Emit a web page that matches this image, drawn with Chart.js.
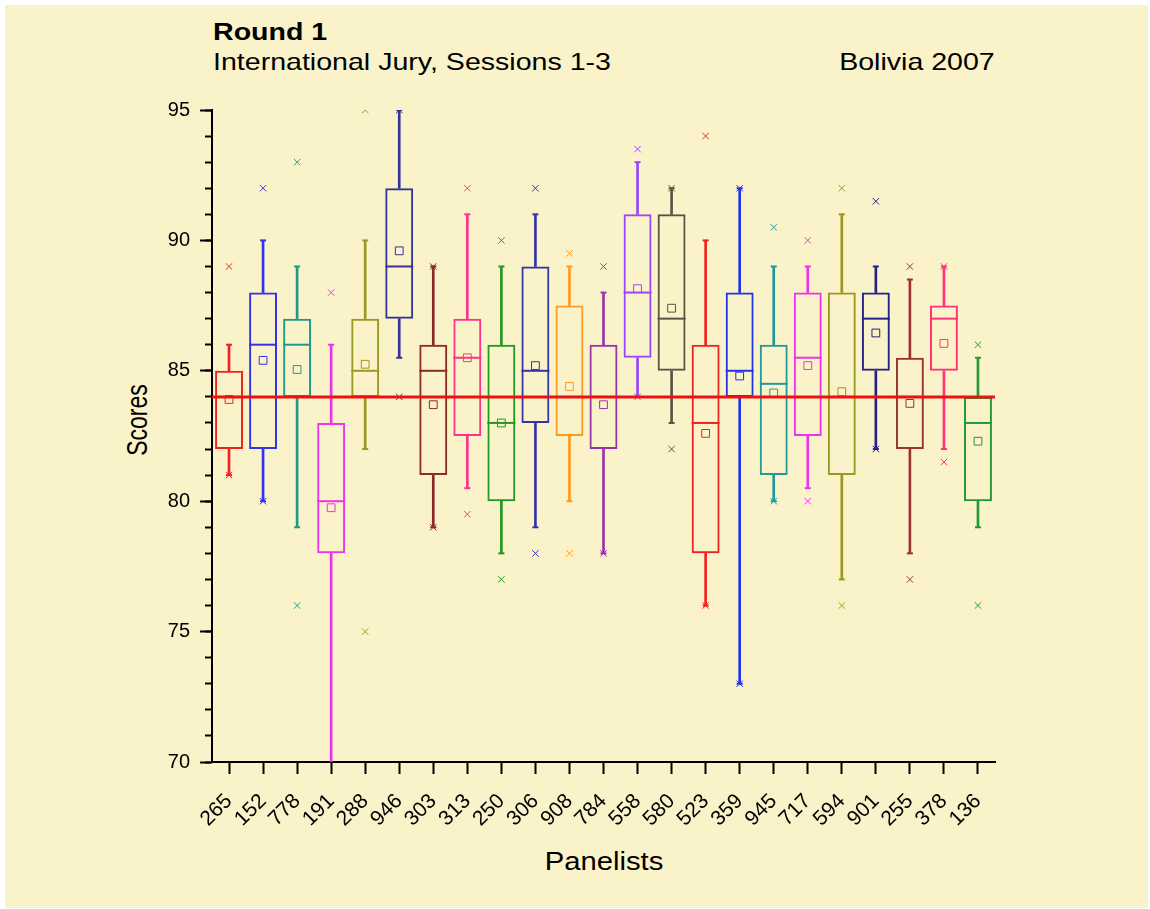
<!DOCTYPE html>
<html>
<head>
<meta charset="utf-8">
<title>Round 1 - International Jury, Sessions 1-3</title>
<script src="https://cdn.jsdelivr.net/npm/chart.js@4.4.1/dist/chart.umd.min.js"></script>
<style>
    html, body { margin: 0; padding: 0; background: #fff; }
    body { width: 1150px; height: 909px; position: relative; overflow: hidden; font-family: "Liberation Sans", Arial, sans-serif; color: #000; }
    #paper { position: absolute; left: 5px; top: 5px; width: 1143px; height: 903px; background: #faf2c9; }
    #wrap { position: absolute; left: 0; top: 0; width: 1150px; height: 909px; }
    .t { position: absolute; font-size: 24px; line-height: 24px; white-space: nowrap; transform: scaleX(1.19); transform-origin: left center; }
    #t1 { left: 213px; top: 20px; font-weight: bold; }
    #t2 { left: 213px; top: 50px; }
    #t3 { right: 155px; top: 50px; transform-origin: right center; }
    .axis-title { position: absolute; white-space: nowrap; line-height: 1; }
    #ytitle { left: 137px; top: 420px; font-size: 23px; transform: translate(-50%, -50%) scaleX(1.3) rotate(-90deg); }
    #xtitle { left: 604px; top: 861px; font-size: 25px; transform: translate(-50%, -50%) scaleX(1.17); }
</style>
</head>
<body>
<div id="paper"></div>
<div class="t" id="t1">Round 1</div>
<div class="t" id="t2">International Jury, Sessions 1-3</div>
<div class="t" id="t3">Bolivia 2007</div>
<div class="axis-title" id="ytitle">Scores</div>
<div class="axis-title" id="xtitle">Panelists</div>
<div id="wrap"><canvas id="scores"></canvas></div>
<script>
(function () {
    "use strict";

    var panelists = ["265", "152", "778", "191", "288", "946", "303", "313", "250", "306", "908", "784",
        "558", "580", "523", "359", "945", "717", "594", "901", "255", "378", "136"];

    // box = 25th..75th percentile, whiskers, median, mean, 1% / 99% markers
    var boxLow = [82, 82, 84, 78, 84, 87, 81, 82.5, 80, 83, 82.5, 82, 85.5, 85, 78, 84, 81, 82.5, 81, 85, 82, 85, 80];
    var boxHigh = [85, 88, 87, 83, 87, 92, 86, 87, 86, 89, 87.5, 86, 91, 91, 86, 88, 86, 88, 88, 88, 85.5, 87.5, 84];
    var medians = [84, 86, 86, 80, 85, 89, 85, 85.5, 83, 85, 84, 84, 88, 87, 83, 85, 84.5, 85.5, 84, 87, 84, 87, 83];
    var means = [83.9, 85.4, 85.05, 79.75, 85.25, 89.6, 83.7, 85.5, 83, 85.2, 84.4, 83.7, 88.15, 87.4, 82.6,
        84.8, 84.15, 85.2, 84.2, 86.45, 83.75, 86.05, 82.3];
    var whiskerLow = [81, 80, 79, 69, 82, 85.5, 79, 80.5, 78, 79, 80, 78, 84, 83, 76, 73, 80, 80.5, 77, 82, 78, 82, 79];
    var whiskerHigh = [86, 90, 89, 86, 90, 95, 89, 91, 89, 91, 89, 88, 93, 92, 90, 92, 89, 89, 91, 89, 88.5, 89, 85.5];
    var pct1 = [81, 80, 76, null, 75, 84, 79, 79.5, 77, 78, 78, 78, 84, 82, 76, 73, 80, 80, 76, 82, 77, 81.5, 76];
    var pct99 = [89, 92, 93, 88, 95, 95, 89, 92, 90, 92, 89.5, 89, 93.5, 92, 94, 92, 90.5, 90, 92, 91.5, 89, 89, 86];
    var referenceScore = 84;

    var colors = ["#ee2222", "#3333ee", "#229988", "#ee33ee", "#999922", "#333399", "#8b2a2a", "#ff3388",
        "#229922", "#3333aa", "#ff9922", "#9933aa", "#9944ff", "#555544", "#ee2222", "#2233ee",
        "#229999", "#ee33ee", "#999922", "#222288", "#993333", "#ff3377", "#229933"];

    var boxWidth = 0.82;

    function pairs(a, b) {
        return a.map(function (v, i) { return [v, b[i]]; });
    }

    function halfBox(ctx) {
        var x = ctx.chart.scales.x;
        return x.width / panelists.length * boxWidth / 2;
    }

    function markers(label, data, style, radius, width) {
        return {
            type: "line",
            label: label,
            data: data,
            yAxisID: "y",
            showLine: false,
            pointStyle: style,
            pointRadius: radius,
            pointBorderWidth: width,
            pointBorderColor: colors,
            pointBackgroundColor: "rgba(0,0,0,0)",
            order: 1
        };
    }

    var referenceLine = {
        id: "referenceLine",
        afterDatasetsDraw: function (chart) {
            var area = chart.chartArea;
            var y = chart.scales.y.getPixelForValue(referenceScore);
            var ctx = chart.ctx;
            ctx.save();
            ctx.strokeStyle = "#ee1111";
            ctx.lineWidth = 3;
            ctx.beginPath();
            ctx.moveTo(area.left, y);
            ctx.lineTo(area.right, y);
            ctx.stroke();
            ctx.restore();
        }
    };

    Chart.defaults.font.family = '"Liberation Sans", Arial, sans-serif';
    Chart.defaults.color = "#000";

    var median = markers("Median", medians, "line", halfBox, 2);
    median.order = 3;
    var mean = markers("Mean", means, "rect", 5.5, 1);
    mean.order = 2;

    new Chart(document.getElementById("scores"), {
        type: "bar",
        data: {
            labels: panelists,
            datasets: [
                {
                    label: "Upper whisker",
                    data: pairs(boxHigh, whiskerHigh),
                    yAxisID: "y",
                    backgroundColor: colors,
                    borderWidth: 0,
                    barThickness: 2,
                    grouped: false,
                    order: 5
                },
                {
                    label: "Lower whisker",
                    data: pairs(whiskerLow, boxLow),
                    yAxisID: "y",
                    backgroundColor: colors,
                    borderWidth: 0,
                    barThickness: 2,
                    grouped: false,
                    order: 5
                },
                {
                    label: "25-75%",
                    data: pairs(boxLow, boxHigh),
                    yAxisID: "y",
                    backgroundColor: "rgba(0,0,0,0)",
                    borderColor: colors,
                    borderWidth: 2,
                    borderSkipped: false,
                    barPercentage: boxWidth,
                    categoryPercentage: 1,
                    grouped: false,
                    order: 4
                },
                median,
                mean,
                markers("Max", whiskerHigh, "line", 3, 2),
                markers("Min", whiskerLow, "line", 3, 2),
                markers("99%", pct99, "crossRot", 4.5, 1),
                markers("1%", pct1, "crossRot", 4.5, 1)
            ]
        },
        options: {
            responsive: true,
            maintainAspectRatio: false,
            animation: false,
            events: [],
            layout: {
                padding: { left: 0, top: 110, right: 155, bottom: 0 }
            },
            plugins: {
                legend: { display: false },
                tooltip: { enabled: false }
            },
            scales: {
                x: {
                    type: "category",
                    offset: true,
                    grid: {
                        drawOnChartArea: false,
                        offset: false,
                        tickLength: 12,
                        tickWidth: 2,
                        tickColor: "#000"
                    },
                    border: { color: "#000", width: 2 },
                    ticks: {
                        color: "#000",
                        font: { size: 21 },
                        minRotation: 45,
                        maxRotation: 45,
                        autoSkip: false,
                        padding: 15
                    },
                    afterFit: function (scale) { scale.height = 147; }
                },
                y: {
                    position: "left",
                    weight: 1,
                    min: 70,
                    max: 95,
                    ticks: { stepSize: 5, color: "#000", font: { size: 20 }, padding: 10 },
                    grid: {
                        drawOnChartArea: false,
                        tickLength: 12,
                        tickWidth: 2,
                        tickColor: "#000"
                    },
                    border: { color: "#000", width: 2 },
                    afterFit: function (scale) { scale.width = 212; }
                },
                yMinor: {
                    axis: "y",
                    position: "left",
                    weight: 0,
                    min: 70,
                    max: 95,
                    ticks: { display: false, stepSize: 1 },
                    grid: {
                        drawOnChartArea: false,
                        tickLength: 7,
                        tickWidth: 2,
                        tickColor: "#000"
                    },
                    border: { display: false },
                    afterFit: function (scale) { scale.width = 0; }
                }
            }
        },
        plugins: [referenceLine]
    });
})();
</script>
</body>
</html>
